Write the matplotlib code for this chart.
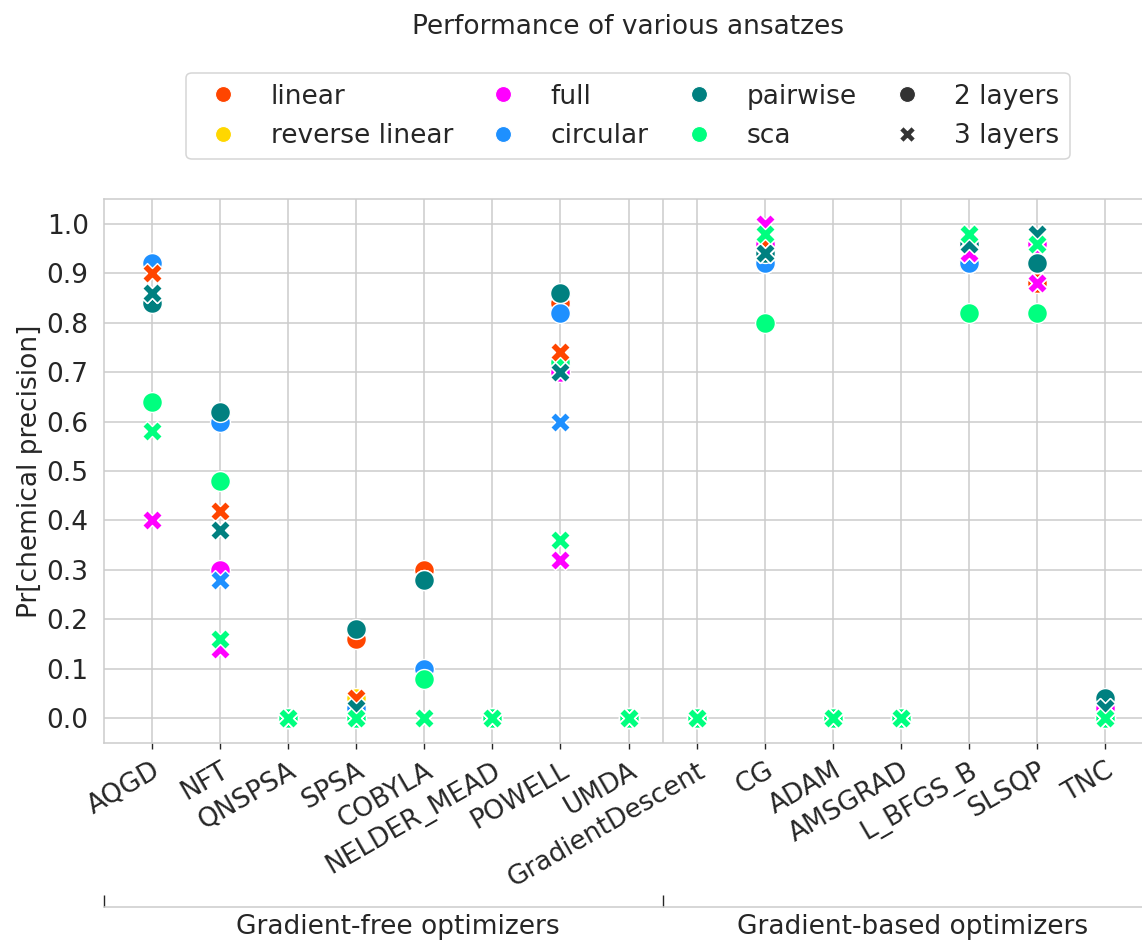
import matplotlib
matplotlib.use("Agg")
import matplotlib.pyplot as plt
from matplotlib.lines import Line2D
import numpy as np

# ---- data -------------------------------------------------------------
optimizers = ["AQGD", "NFT", "QNSPSA", "SPSA", "COBYLA", "NELDER_MEAD", "POWELL",
              "UMDA", "GradientDescent", "CG", "ADAM", "AMSGRAD", "L_BFGS_B",
              "SLSQP", "TNC"]
n_gradient_free = 8
group_labels = ["Gradient-free optimizers", "Gradient-based optimizers"]

ansatzes = ["linear", "reverse linear", "full", "circular", "pairwise", "sca"]
ansatz_colors = ["#FF4500", "#FFD700", "#FF00FF", "#1E90FF", "#008080", "#00FF7F"]
layer_labels = ["2 layers", "3 layers"]
layer_markers = ["o", "X"]

# Pr[chemical precision] per optimizer (same order as `optimizers`)
linear_2l         = [0.92, 0.62, 0, 0.16, 0.30, 0, 0.84, 0, 0, 0.92, 0, 0, 0.92, 0.88, 0]
reverse_linear_2l = [0.92, 0.62, 0, 0.04, 0.28, 0, 0.86, 0, 0, 0.92, 0, 0, 0.92, 0.92, 0]
full_2l           = [0.84, 0.30, 0, 0.00, 0.28, 0, 0.70, 0, 0, 0.96, 0, 0, 0.92, 0.96, 0.02]
circular_2l       = [0.92, 0.60, 0, 0.02, 0.10, 0, 0.82, 0, 0, 0.92, 0, 0, 0.92, 0.92, 0]
pairwise_2l       = [0.84, 0.62, 0, 0.18, 0.28, 0, 0.86, 0, 0, 0.94, 0, 0, 0.96, 0.92, 0.04]
sca_2l            = [0.64, 0.48, 0, 0.00, 0.08, 0, 0.72, 0, 0, 0.80, 0, 0, 0.82, 0.82, 0]

linear_3l         = [0.90, 0.42, 0, 0.04, 0, 0, 0.74, 0, 0, 0.96, 0, 0, 0.94, 0.88, 0]
reverse_linear_3l = [0.86, 0.38, 0, 0.00, 0, 0, 0.70, 0, 0, 0.94, 0, 0, 0.94, 0.88, 0]
full_3l           = [0.40, 0.14, 0, 0.00, 0, 0, 0.32, 0, 0, 1.00, 0, 0, 0.94, 0.88, 0.02]
circular_3l       = [0.86, 0.28, 0, 0.00, 0, 0, 0.60, 0, 0, 0.94, 0, 0, 0.96, 0.96, 0]
pairwise_3l       = [0.86, 0.38, 0, 0.02, 0, 0, 0.70, 0, 0, 0.94, 0, 0, 0.96, 0.98, 0.02]
sca_3l            = [0.58, 0.16, 0, 0.00, 0, 0, 0.36, 0, 0, 0.98, 0, 0, 0.98, 0.96, 0]

results = [
    [linear_2l, reverse_linear_2l, full_2l, circular_2l, pairwise_2l, sca_2l],
    [linear_3l, reverse_linear_3l, full_3l, circular_3l, pairwise_3l, sca_3l],
]

# ---- style ------------------------------------------------------------
TEXT = "#262626"
GRID = "#cccccc"
FS = 19
plt.rcParams["font.family"] = ["DejaVu Sans"]
plt.rcParams["font.size"] = FS
plt.rcParams["text.color"] = TEXT
plt.rcParams["axes.labelcolor"] = TEXT
plt.rcParams["xtick.color"] = TEXT
plt.rcParams["ytick.color"] = TEXT

W, H = 1142, 942
fig = plt.figure(figsize=(W / 100, H / 100), dpi=100)
fig.patch.set_facecolor("white")

left_px, right_px, top_px, bottom_px = 104, 1153, 199, 743
ax = fig.add_axes([left_px / W, 1 - bottom_px / H,
                   (right_px - left_px) / W, (bottom_px - top_px) / H])

x = np.arange(len(optimizers))
for layer_vals, marker in zip(results, layer_markers):
    for vals, color in zip(layer_vals, ansatz_colors):
        ax.scatter(x, vals, s=205, marker=marker, color=color,
                   edgecolors="white", linewidths=1.0, zorder=3)

ax.set_xlim(-0.7, len(optimizers) - 1 + 0.7)
ax.set_ylim(-0.05, 1.05)
ax.set_yticks(np.round(np.arange(0, 1.01, 0.1), 1))
ax.set_yticklabels([f"{v:.1f}" for v in np.arange(0, 1.01, 0.1)])
ax.set_xticks(x)
ax.set_xticklabels(optimizers, rotation=30, ha="right", rotation_mode="anchor")
ax.set_ylabel("Pr[chemical precision]", fontsize=FS, labelpad=3)

ax.grid(True, color=GRID, linewidth=1.1, zorder=0)
ax.set_axisbelow(True)
ax.axvline(n_gradient_free - 0.5, color=GRID, linewidth=1.1, zorder=1)
for sp in ax.spines.values():
    sp.set_color(GRID)
    sp.set_linewidth(1.1)
ax.tick_params(axis="y", length=0, pad=11, labelsize=FS)
ax.tick_params(axis="x", length=4.5, width=1.0, color=TEXT, pad=6, labelsize=FS)

# group axis underneath the optimizer names
ax2 = ax.twiny()
ax2.set_xlim(ax.get_xlim())
ax2.xaxis.set_ticks_position("bottom")
ax2.xaxis.set_label_position("bottom")
ax2.spines["bottom"].set_position(("outward", 118))
for name in ("top", "left", "right"):
    ax2.spines[name].set_visible(False)
ax2.spines["bottom"].set_color(GRID)
ax2.spines["bottom"].set_linewidth(1.1)
ax2.set_xticks([-0.7, n_gradient_free - 0.5, len(optimizers) - 1 + 0.7])
ax2.set_xticklabels(["", "", ""])
ax2.set_xticks([3.62, 11.17], minor=True)
ax2.set_xticklabels(group_labels, minor=True)
ax2.tick_params(axis="x", which="major", direction="in", length=8.5, width=1.0, color=TEXT)
ax2.tick_params(axis="x", which="minor", length=0, pad=5, labelsize=FS)
ax2.grid(False)

# title and legend above the axes
fig.text(628 / W, 1 - 27 / H, "Performance of various ansatzes",
         ha="center", va="center", fontsize=FS)

handles = [Line2D([], [], marker="o", linestyle="none", markersize=11.5,
                  markerfacecolor=c, markeredgecolor="white", markeredgewidth=0.8)
           for c in ansatz_colors]
handles += [Line2D([], [], marker=m, linestyle="none", markersize=11.5,
                   markerfacecolor="#333333", markeredgecolor="white", markeredgewidth=0.8)
            for m in layer_markers]
labels = ansatzes + layer_labels
leg = fig.legend(handles, labels, ncol=4, loc="upper center",
                 bbox_to_anchor=(628 / W, 1 - 73 / H), borderaxespad=0,
                 fontsize=FS, columnspacing=0.9, frameon=True, fancybox=True)
leg.get_frame().set_edgecolor(GRID)
leg.get_frame().set_linewidth(1.1)

fig.savefig("out.png", dpi=100, facecolor="white")
